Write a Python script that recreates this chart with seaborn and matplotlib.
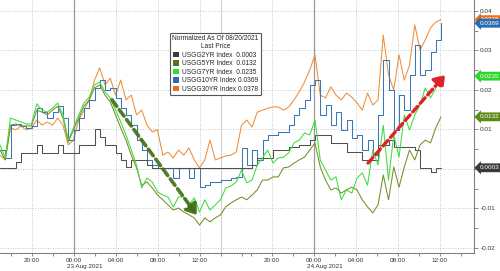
import numpy as np
import pandas as pd
import matplotlib
matplotlib.use("Agg")
import matplotlib.pyplot as plt
import seaborn as sns
from matplotlib.patches import Patch
from matplotlib.ticker import FixedLocator, MultipleLocator

sns.set_theme(style="white")
plt.rcParams["font.family"] = ["Liberation Sans", "DejaVu Sans"]

# ---------------- data ----------------
series_names = ["USGG2YR Index", "USGG5YR Index", "USGG7YR Index", "USGG10YR Index", "USGG30YR Index"]
last_prices = [0.0003, 0.0132, 0.0235, 0.0369, 0.0378]

# half-hour samples on the session axis (hours from 22 Aug 17:00, 17:00-18:00 break removed)
pos = np.arange(85) * 0.5

usgg2 = [0.0003, 0.0003, 0.0003, 0.0018, 0.0041, 0.0041, 0.0041, 0.0061, 0.0041, 0.0041,
         0.0041, 0.0061, 0.0041, 0.0041, 0.0041, 0.0061, 0.0061, 0.0061, 0.0101, 0.0081,
         0.0061, 0.0061, 0.0041, 0.0023, 0.0005, 0.0023, 0.0023, 0.0023, 0.0010, 0.0003,
         0.0003, 0.0003, 0.0003, 0.0003, 0.0003, 0.0003, 0.0003, 0.0003, 0.0003, 0.0003,
         0.0003, 0.0003, 0.0003, 0.0003, 0.0003, 0.0003, 0.0003, 0.0003, 0.0010, 0.0028,
         0.0028, 0.0028, 0.0048, 0.0048, 0.0048, 0.0056, 0.0056, 0.0061, 0.0061, 0.0073,
         0.0086, 0.0086, 0.0086, 0.0066, 0.0066, 0.0066, 0.0043, 0.0043, 0.0043, 0.0023,
         0.0023, 0.0023, 0.0061, 0.0061, 0.0073, 0.0056, 0.0056, 0.0056, 0.0056, 0.0048,
         0.0003, 0.0003, -0.0008, 0.0003, 0.0003]

usgg5 = [0.0048, 0.0023, 0.0111, 0.0114, 0.0109, 0.0109, 0.0109, 0.0149, 0.0144, 0.0137,
         0.0149, 0.0159, 0.0129, 0.0068, 0.0099, 0.0129, 0.0159, 0.0175, 0.0205, 0.0213,
         0.0187, 0.0170, 0.0137, 0.0104, 0.0073, 0.0035, 0.0003, -0.0041, -0.0033, -0.0048,
         -0.0066, -0.0078, -0.0091, -0.0104, -0.0099, -0.0109, -0.0116, -0.0124, -0.0142, -0.0124,
         -0.0134, -0.0124, -0.0116, -0.0096, -0.0086, -0.0078, -0.0071, -0.0078, -0.0066, -0.0053,
         -0.0028, -0.0028, -0.0020, -0.0020, 0.0003, 0.0005, 0.0015, 0.0023, 0.0030, 0.0048,
         0.0066, 0.0005, -0.0028, -0.0053, -0.0048, -0.0061, -0.0053, -0.0046, -0.0053, -0.0078,
         -0.0096, -0.0111, -0.0091, -0.0015, -0.0078, 0.0005, -0.0046, 0.0005, 0.0048, 0.0023,
         0.0061, 0.0073, 0.0066, 0.0104, 0.0132]

usgg7 = [0.0061, 0.0028, 0.0129, 0.0124, 0.0119, 0.0114, 0.0114, 0.0165, 0.0149, 0.0144,
         0.0154, 0.0167, 0.0137, 0.0073, 0.0104, 0.0137, 0.0167, 0.0182, 0.0213, 0.0220,
         0.0195, 0.0180, 0.0149, 0.0119, 0.0086, 0.0048, 0.0010, -0.0048, -0.0023, -0.0033,
         -0.0058, -0.0066, -0.0071, -0.0096, -0.0071, -0.0071, -0.0091, -0.0073, -0.0109, -0.0078,
         -0.0104, -0.0091, -0.0078, -0.0048, -0.0043, -0.0033, -0.0003, -0.0035, -0.0028, 0.0010,
         0.0028, 0.0048, 0.0015, 0.0028, 0.0030, 0.0041, 0.0066, 0.0073, 0.0091, 0.0086,
         0.0124, 0.0023, -0.0003, -0.0028, -0.0020, -0.0078, -0.0053, -0.0061, -0.0023, -0.0010,
         -0.0041, 0.0048, 0.0010, 0.0111, -0.0028, 0.0086, 0.0030, 0.0137, 0.0099, 0.0137,
         0.0162, 0.0205, 0.0180, 0.0205, 0.0235]

usgg10 = [0.0048, 0.0028, 0.0111, 0.0114, 0.0109, 0.0104, 0.0109, 0.0154, 0.0144, 0.0129,
          0.0144, 0.0159, 0.0129, 0.0073, 0.0099, 0.0129, 0.0154, 0.0175, 0.0205, 0.0225,
          0.0200, 0.0205, 0.0180, 0.0154, 0.0137, 0.0111, 0.0073, 0.0048, 0.0023, 0.0010,
          0.0003, 0.0003, 0.0003, -0.0023, 0.0003, 0.0003, -0.0023, 0.0003, -0.0046, -0.0041,
          -0.0033, -0.0033, -0.0028, -0.0028, -0.0023, -0.0020, 0.0053, 0.0010, 0.0048, 0.0023,
          0.0073, 0.0086, 0.0086, 0.0094, 0.0094, 0.0111, 0.0137, 0.0154, 0.0175, 0.0213,
          0.0225, 0.0137, 0.0162, 0.0111, 0.0144, 0.0099, 0.0124, 0.0078, 0.0086, 0.0048,
          0.0073, 0.0035, 0.0137, 0.0276, 0.0200, 0.0099, 0.0187, 0.0149, 0.0238, 0.0314,
          0.0238, 0.0251, 0.0296, 0.0327, 0.0369]

usgg30 = [0.0035, 0.0023, 0.0104, 0.0099, 0.0109, 0.0099, 0.0104, 0.0124, 0.0111, 0.0119,
          0.0111, 0.0129, 0.0111, 0.0061, 0.0073, 0.0124, 0.0149, 0.0175, 0.0225, 0.0256,
          0.0213, 0.0230, 0.0187, 0.0225, 0.0175, 0.0187, 0.0137, 0.0149, 0.0111, 0.0094,
          0.0099, 0.0035, 0.0043, 0.0028, 0.0048, 0.0035, 0.0053, 0.0023, 0.0003, 0.0023,
          0.0073, 0.0023, 0.0028, 0.0033, 0.0035, 0.0043, 0.0111, 0.0124, 0.0106, 0.0144,
          0.0149, 0.0154, 0.0157, 0.0157, 0.0149, 0.0157, 0.0175, 0.0195, 0.0220, 0.0251,
          0.0289, 0.0187, 0.0180, 0.0208, 0.0187, 0.0175, 0.0192, 0.0182, 0.0167, 0.0149,
          0.0192, 0.0162, 0.0175, 0.0339, 0.0238, 0.0200, 0.0289, 0.0225, 0.0263, 0.0365,
          0.0301, 0.0327, 0.0357, 0.0372, 0.0378]

# time axis (hours relative to 23 Aug 00:00)
major_hours = [-4, 0, 4, 8, 12, 20, 24, 28, 32, 36]
major_labels = ["20:00", "00:00", "04:00", "08:00", "12:00", "20:00", "00:00", "04:00", "08:00", "12:00"]
minor_hours = [-6, -2, 2, 6, 10, 14, 16, 18, 22, 26, 30, 34, 38]
day_hours = [0, 24]
session_hours = [14]
day_labels = ["23 Aug 2021", "24 Aug 2021"]

# annotation arrows (position, value)
down_arrow = [(10.67, 0.0175), (18.76, -0.0117)]
up_arrow = [(35.05, 0.0015), (42.38, 0.0238)]

y_ticks = [-0.02, -0.01, 0.0, 0.01, 0.02, 0.03, 0.04]
# the "0" label sits behind the 2YR last-price tag in the reference
y_ticklabels = ["-0.02", "-0.01", "", "0.01", "0.02", "0.03", "0.04"]

# ---------------- styling ----------------
line_colors = {"USGG2YR Index": "#505050", "USGG5YR Index": "#7a8c2a", "USGG7YR Index": "#3cdc3c",
               "USGG10YR Index": "#3a78b4", "USGG30YR Index": "#ec8d3a"}
legend_colors = ["#3c3c3c", "#4f7a14", "#2ee02e", "#2b6cb0", "#e8701c"]
tag_colors = ["#3a3a3a", "#5e8a1c", "#2fd52f", "#2b6cb0", "#e8701c"]


def to_pos(h):
    return h + 7 if h <= 17 else h + 5.9


df = pd.DataFrame({"pos": np.tile(pos, 5),
                   "value": usgg2 + usgg5 + usgg7 + usgg10 + usgg30,
                   "series": np.repeat(series_names, len(pos))})

fig = plt.figure(figsize=(5.0, 2.71), dpi=100)
ax = fig.add_axes([0.0, 18 / 271, 474 / 500, 253 / 271])
ax.set_facecolor("white")

draw_order = ["USGG30YR Index", "USGG10YR Index", "USGG2YR Index", "USGG5YR Index", "USGG7YR Index"]
for name in draw_order:
    sub = df[df["series"] == name]
    sns.lineplot(data=sub, x="pos", y="value", color=line_colors[name], lw=0.75,
                 drawstyle="steps-post" if name in ("USGG2YR Index", "USGG10YR Index") else "default",
                 estimator=None, legend=False, ax=ax, zorder=3)

ax.set_xlim(0, 45.14)
ax.set_ylim(-0.02127, 0.04278)
ax.set_xlabel("")
ax.set_ylabel("")

# grid
for v in y_ticks:
    ax.axhline(v, color="#b4b4b4", lw=0.6, ls=(0, (1, 2)), zorder=1)
for h, lab in zip(major_hours, major_labels):
    if h not in day_hours:
        ax.axvline(to_pos(h), color="#b4b4b4", lw=0.6, ls=(0, (1, 2)), zorder=1)
for h in day_hours:
    ax.axvline(to_pos(h), color="#9a9a9a", lw=0.9, zorder=1)
for h in session_hours:
    ax.axvline(to_pos(h), color="#d0d0d0", lw=0.8, zorder=1)

# ticks
ax.xaxis.set_major_locator(FixedLocator([to_pos(h) for h in major_hours]))
ax.set_xticklabels(major_labels)
ax.xaxis.set_minor_locator(FixedLocator([to_pos(h) for h in minor_hours]))
ax.yaxis.tick_right()
ax.set_yticks(y_ticks)
ax.set_yticklabels(y_ticklabels)
ax.yaxis.set_minor_locator(MultipleLocator(0.005))
ax.tick_params(axis="x", which="both", bottom=True, direction="out", length=2.5, width=0.6,
               color="#777777", labelsize=4.6, labelcolor="#333333", pad=1.2)
ax.tick_params(axis="y", which="both", right=True, left=False, direction="out", length=3, width=0.6,
               color="#777777", labelsize=4.6, labelcolor="#333333", pad=1.5)
for s in ["left", "top"]:
    ax.spines[s].set_visible(False)
for s in ["right", "bottom"]:
    ax.spines[s].set_color("#808080")
    ax.spines[s].set_linewidth(0.8)

for lab, h in zip(day_labels, day_hours):
    xpx = to_pos(h) * 10.5
    fig.text((xpx + 11) / 500, 1 - 266.5 / 271, lab, ha="center", va="center", fontsize=4.6, color="#333333")

# arrows
ax.annotate("", xy=down_arrow[1], xytext=down_arrow[0],
            arrowprops=dict(arrowstyle="-|>,head_length=0.5,head_width=0.35", lw=2.6, ls=(0, (2.2, 1.2)),
                            color="#3f6e12", shrinkA=0, shrinkB=0, alpha=0.9), zorder=6)
ax.annotate("", xy=up_arrow[1], xytext=up_arrow[0],
            arrowprops=dict(arrowstyle="-|>,head_length=0.5,head_width=0.35", lw=2.4, ls=(0, (2.2, 1.2)),
                            color="#e0202a", shrinkA=0, shrinkB=0), zorder=6)

# right-side tags
order = [4, 3, 2, 1, 0]
for i in order:
    ax.annotate(f"{last_prices[i]:.4f}", xy=(1, last_prices[i]), xycoords=ax.get_yaxis_transform(),
                xytext=(3.8, 0), textcoords="offset points", ha="left", va="center", fontsize=4.6,
                color="white", annotation_clip=False, zorder=8,
                bbox=dict(boxstyle="larrow,pad=0.3", fc=tag_colors[i], ec="none"))

# legend
handles = [Patch(facecolor=c, edgecolor="none") for c in legend_colors]
labels = [f"{n}  {v:.4f}" if len(n) < 14 else f"{n} {v:.4f}" for n, v in zip(series_names, last_prices)]
leg = ax.legend(handles, labels, title="Normalized As Of 08/20/2021\nLast Price", loc="upper left",
                bbox_to_anchor=(170 / 474, 1 - 33 / 253), borderaxespad=0, fontsize=4.8, title_fontsize=4.8,
                handlelength=0.9, handleheight=0.9, handletextpad=0.35, labelspacing=0.22, borderpad=0.35,
                frameon=True, fancybox=True, framealpha=1, edgecolor="#555555")
leg.get_title().set_multialignment("center")
leg.get_frame().set_linewidth(0.8)
leg.set_zorder(7)

fig.savefig("out.png", dpi=100, facecolor="white")
